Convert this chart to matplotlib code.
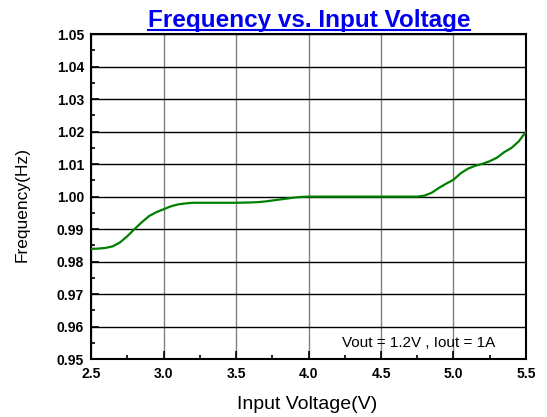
'''Frequency vs. input voltage chart'''
import matplotlib
matplotlib.use("Agg")
import matplotlib.pyplot as plt
from matplotlib.lines import Line2D
from matplotlib.ticker import MultipleLocator, FormatStrFormatter

# Data
vin = [2.50, 2.55, 2.60, 2.65, 2.70, 2.75, 2.80, 2.85, 2.90, 2.95,
       3.00, 3.05, 3.10, 3.15, 3.20, 3.30, 3.40, 3.50, 3.60, 3.65,
       3.70, 3.75, 3.80, 3.85, 3.90, 3.95, 4.00, 4.20, 4.40, 4.60,
       4.75, 4.80, 4.85, 4.90, 4.95, 5.00, 5.05, 5.10, 5.15, 5.20,
       5.25, 5.30, 5.35, 5.40, 5.45, 5.50]
freq = [0.9839, 0.9840, 0.9842, 0.9847, 0.9859, 0.9878, 0.9900, 0.9921,
        0.9940, 0.9952, 0.9961, 0.9970, 0.9976, 0.9979, 0.9981, 0.9981,
        0.9981, 0.9981, 0.9982, 0.9983, 0.9985, 0.9988, 0.9991, 0.9994,
        0.9997, 0.9999, 1.0000, 1.0000, 1.0000, 1.0000, 1.0000, 1.0003,
        1.0012, 1.0027, 1.0040, 1.0052, 1.0072, 1.0086, 1.0095, 1.0101,
        1.0109, 1.0120, 1.0137, 1.0150, 1.0170, 1.0200]

plt.rcParams['font.family'] = ['Liberation Sans', 'DejaVu Sans']

fig = plt.figure(figsize=(5.47, 4.17), dpi=100)
ax = fig.add_axes([0.1664, 0.139, 0.7952, 0.779])

ax.plot(vin, freq, color='#008000', linewidth=1.6, zorder=3)

ax.set_xlim(2.5, 5.5)
ax.set_ylim(0.95, 1.05)
ax.xaxis.set_major_locator(MultipleLocator(0.5))
ax.xaxis.set_minor_locator(MultipleLocator(0.25))
ax.yaxis.set_major_locator(MultipleLocator(0.01))
ax.yaxis.set_minor_locator(MultipleLocator(0.005))
ax.xaxis.set_major_formatter(FormatStrFormatter('%.1f'))
ax.yaxis.set_major_formatter(FormatStrFormatter('%.2f'))

#Grid: gray verticals, black horizontals
ax.grid(axis='x', which='major', color='#808080', linewidth=1.0)
ax.grid(axis='y', which='major', color='black', linewidth=1.0)

ax.tick_params(which='both', direction='in', width=1.2, top=False, right=False)
ax.tick_params(which='major', length=6, labelsize=10)
ax.tick_params(axis='x', which='major', pad=5.5)
ax.tick_params(axis='y', which='major', pad=5)
ax.tick_params(which='minor', length=3)
for lab in ax.get_xticklabels() + ax.get_yticklabels():
    lab.set_fontweight('bold')
for sp in ax.spines.values():
    sp.set_linewidth(1.5)

#Axis labels placed in figure coords
fig.text(307.5 / 547, 1 - 409 / 417, 'Input Voltage(V)', fontsize=14,
         ha='center', va='baseline')
fig.text(22 / 547, 1 - 205 / 417, 'Frequency(Hz)', fontsize=12.5,
         rotation=90, ha='center', va='center')

ax.text(5.29, 0.9537, 'Vout = 1.2V , Iout = 1A', fontsize=11,
        ha='right', va='baseline')

#Title with an underline
title = fig.text(309 / 547, 1 - 26.5 / 417, 'Frequency vs. Input Voltage',
                 fontsize=17.5, fontweight='bold', color='#0000EE',
                 ha='center', va='baseline')
fig.canvas.draw()
bb = title.get_window_extent().transformed(fig.transFigure.inverted())
uy = 1 - 30 / 417
fig.add_artist(Line2D([bb.x0, bb.x1], [uy, uy], color='#0000EE',
                      linewidth=1.5, transform=fig.transFigure))

fig.savefig('out.png', dpi=100)
